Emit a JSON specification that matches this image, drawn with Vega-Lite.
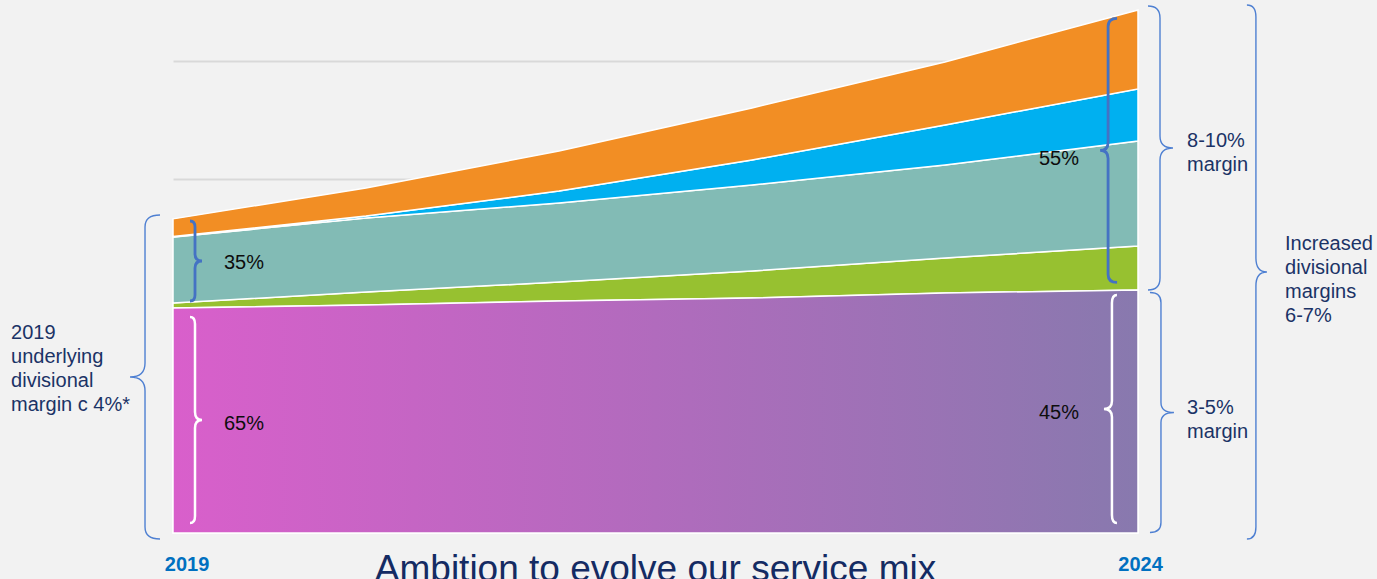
{
  "$schema": "https://vega.github.io/schema/vega-lite/v6.json",
  "width": 965,
  "height": 531,
  "autosize": {"type": "none"},
  "padding": {"left": 173, "top": 2, "right": 239, "bottom": 46},
  "background": "#F2F2F2",
  "config": {"view": {"stroke": null}, "font": "Liberation Sans", "text": {"font": "Liberation Sans"}},
  "datasets": {
    "mix": [
      {"year": 2019, "segment": "Traditional services", "rank": 1, "share": 190.7},
      {"year": 2020, "segment": "Traditional services", "rank": 1, "share": 193.2},
      {"year": 2021, "segment": "Traditional services", "rank": 1, "share": 196.6},
      {"year": 2022, "segment": "Traditional services", "rank": 1, "share": 199.2},
      {"year": 2023, "segment": "Traditional services", "rank": 1, "share": 203.4},
      {"year": 2024, "segment": "Traditional services", "rank": 1, "share": 205.9},
      {"year": 2019, "segment": "Growth service A", "rank": 2, "share": 4.2},
      {"year": 2020, "segment": "Growth service A", "rank": 2, "share": 11.0},
      {"year": 2021, "segment": "Growth service A", "rank": 2, "share": 16.1},
      {"year": 2022, "segment": "Growth service A", "rank": 2, "share": 22.8},
      {"year": 2023, "segment": "Growth service A", "rank": 2, "share": 29.7},
      {"year": 2024, "segment": "Growth service A", "rank": 2, "share": 37.3},
      {"year": 2019, "segment": "Growth service B", "rank": 3, "share": 55.9},
      {"year": 2020, "segment": "Growth service B", "rank": 3, "share": 62.7},
      {"year": 2021, "segment": "Growth service B", "rank": 3, "share": 67.0},
      {"year": 2022, "segment": "Growth service B", "rank": 3, "share": 72.9},
      {"year": 2023, "segment": "Growth service B", "rank": 3, "share": 78.8},
      {"year": 2024, "segment": "Growth service B", "rank": 3, "share": 89.0},
      {"year": 2019, "segment": "Growth service C", "rank": 4, "share": 0.4},
      {"year": 2020, "segment": "Growth service C", "rank": 4, "share": 1.7},
      {"year": 2021, "segment": "Growth service C", "rank": 4, "share": 10.1},
      {"year": 2022, "segment": "Growth service C", "rank": 4, "share": 21.2},
      {"year": 2023, "segment": "Growth service C", "rank": 4, "share": 33.9},
      {"year": 2024, "segment": "Growth service C", "rank": 4, "share": 44.1},
      {"year": 2019, "segment": "Growth service D", "rank": 5, "share": 15.0},
      {"year": 2020, "segment": "Growth service D", "rank": 5, "share": 23.8},
      {"year": 2021, "segment": "Growth service D", "rank": 5, "share": 33.9},
      {"year": 2022, "segment": "Growth service D", "rank": 5, "share": 44.1},
      {"year": 2023, "segment": "Growth service D", "rank": 5, "share": 53.4},
      {"year": 2024, "segment": "Growth service D", "rank": 5, "share": 66.9}
    ]
  },
  "layer": [
    {
      "data": {"name": "mix"},
      "mark": {"type": "area", "stroke": "#FFFFFF", "strokeWidth": 1.5, "interpolate": "linear"},
      "encoding": {
        "x": {"field": "year", "type": "quantitative", "scale": {"domain": [2019, 2024], "nice": false, "zero": false}, "axis": null},
        "y": {
          "field": "share", "type": "quantitative", "stack": "zero",
          "scale": {"domain": [0, 450], "nice": false, "zero": true},
          "axis": {"values": [100, 200, 300, 400], "labels": false, "ticks": false, "domain": false, "title": null, "grid": true, "gridColor": "#D9D9D9", "gridWidth": 2}
        },
        "color": {
          "field": "segment", "type": "nominal", "legend": null,
          "scale": {
            "domain": ["Traditional services", "Growth service A", "Growth service B", "Growth service C", "Growth service D"],
            "range": ["#B06CBC", "#97C130", "#82BBB5", "#00B0F0", "#F28E24"]
          }
        },
        "order": {"field": "rank", "type": "quantitative"}
      }
    },
    {
      "data": {"name": "mix"},
      "transform": [{"filter": "datum.rank == 1"}],
      "mark": {
        "type": "area", "stroke": "#FFFFFF", "strokeWidth": 1.5,
        "fill": {"gradient": "linear", "x1": 0, "y1": 0, "x2": 1, "y2": 0,
          "stops": [{"offset": 0, "color": "#D95FCB"}, {"offset": 0.5, "color": "#B16BBD"}, {"offset": 1, "color": "#8879AE"}]}
      },
      "encoding": {
        "x": {"field": "year", "type": "quantitative"},
        "y": {"field": "share", "type": "quantitative"}
      }
    },
    {
      "data": {"values": [{}]},
      "mark": {"type": "point", "shape": "M15,-162 Q0,-162 0,-150 L0,-14 Q0,0 -15,0 Q0,0 0,14 L0,150 Q0,162 15,162", "size": 4, "filled": false, "color": "#4F80D2", "strokeWidth": 1.4, "opacity": 1},
      "encoding": {"x": {"datum": 2018.855}, "y": {"datum": 132.2}}
    },
    {
      "data": {"values": [{}]},
      "mark": {"type": "point", "shape": "M-5,-40 Q0,-40 0,-34 L0,-7 Q0,0 7,0 Q0,0 0,7 L0,34 Q0,40 -5,40", "size": 4, "filled": false, "color": "#4472C4", "strokeWidth": 2.8, "opacity": 1},
      "encoding": {"x": {"datum": 2019.114}, "y": {"datum": 230.5}}
    },
    {
      "data": {"values": [{}]},
      "mark": {"type": "point", "shape": "M-5,-103 Q0,-103 0,-96 L0,-8 Q0,0 7,0 Q0,0 0,8 L0,96 Q0,103 -5,103", "size": 4, "filled": false, "color": "#FFFFFF", "strokeWidth": 2.5, "opacity": 1},
      "encoding": {"x": {"datum": 2019.114}, "y": {"datum": 95.8}}
    },
    {
      "data": {"values": [{}]},
      "mark": {"type": "point", "shape": "M9,-132 Q0,-132 0,-124 L0,-8 Q0,0 -8,0 Q0,0 0,8 L0,124 Q0,132 9,132", "size": 4, "filled": false, "color": "#4472C4", "strokeWidth": 2.8, "opacity": 1},
      "encoding": {"x": {"datum": 2023.845}, "y": {"datum": 324.2}}
    },
    {
      "data": {"values": [{}]},
      "mark": {"type": "point", "shape": "M5,-114 Q0,-114 0,-106 L0,-8 Q0,0 -8,0 Q0,0 0,8 L0,106 Q0,114 5,114", "size": 4, "filled": false, "color": "#FFFFFF", "strokeWidth": 2.5, "opacity": 1},
      "encoding": {"x": {"datum": 2023.865}, "y": {"datum": 105.1}}
    },
    {
      "data": {"values": [{}]},
      "mark": {"type": "point", "shape": "M-12,-142 Q0,-142 0,-130 L0,-12 Q0,0 13,0 Q0,0 0,12 L0,130 Q0,142 -12,142", "size": 4, "filled": false, "color": "#4F80D2", "strokeWidth": 1.4, "opacity": 1},
      "encoding": {"x": {"datum": 2024.114}, "y": {"datum": 326.3}}
    },
    {
      "data": {"values": [{}]},
      "mark": {"type": "point", "shape": "M-11,-120 Q0,-120 0,-110 L0,-10 Q0,0 13,0 Q0,0 0,10 L0,110 Q0,120 -11,120", "size": 4, "filled": false, "color": "#4F80D2", "strokeWidth": 1.4, "opacity": 1},
      "encoding": {"x": {"datum": 2024.119}, "y": {"datum": 102.1}}
    },
    {
      "data": {"values": [{}]},
      "mark": {"type": "point", "shape": "M-9,-267 Q0,-267 0,-255 L0,-14 Q0,0 11,0 Q0,0 0,14 L0,255 Q0,267 -9,267", "size": 4, "filled": false, "color": "#4F80D2", "strokeWidth": 1.4, "opacity": 1},
      "encoding": {"x": {"datum": 2024.611}, "y": {"datum": 221.2}}
    },
    {
      "data": {"values": [{}]},
      "mark": {"type": "text", "text": "35%", "align": "left", "baseline": "alphabetic", "fontSize": 20, "color": "#0D0D0D"},
      "encoding": {"x": {"datum": 2019.264}, "y": {"datum": 223.7}}
    },
    {
      "data": {"values": [{}]},
      "mark": {"type": "text", "text": "65%", "align": "left", "baseline": "alphabetic", "fontSize": 20, "color": "#0D0D0D"},
      "encoding": {"x": {"datum": 2019.264}, "y": {"datum": 86.9}}
    },
    {
      "data": {"values": [{}]},
      "mark": {"type": "text", "text": "55%", "align": "left", "baseline": "alphabetic", "fontSize": 20, "color": "#0D0D0D"},
      "encoding": {"x": {"datum": 2023.487}, "y": {"datum": 311.9}}
    },
    {
      "data": {"values": [{}]},
      "mark": {"type": "text", "text": "45%", "align": "left", "baseline": "alphabetic", "fontSize": 20, "color": "#0D0D0D"},
      "encoding": {"x": {"datum": 2023.487}, "y": {"datum": 96.6}}
    },
    {
      "data": {"values": [{}]},
      "mark": {"type": "text", "text": ["2019", "underlying", "divisional", "margin c 4%*"], "align": "left", "baseline": "alphabetic", "lineHeight": 24, "fontSize": 20, "color": "#1B3366"},
      "encoding": {"x": {"datum": 2018.161}, "y": {"datum": 164.4}}
    },
    {
      "data": {"values": [{}]},
      "mark": {"type": "text", "text": ["8-10%", "margin"], "align": "left", "baseline": "alphabetic", "lineHeight": 24, "fontSize": 20, "color": "#1B3366"},
      "encoding": {"x": {"datum": 2024.254}, "y": {"datum": 327.1}}
    },
    {
      "data": {"values": [{}]},
      "mark": {"type": "text", "text": ["3-5%", "margin"], "align": "left", "baseline": "alphabetic", "lineHeight": 24, "fontSize": 20, "color": "#1B3366"},
      "encoding": {"x": {"datum": 2024.254}, "y": {"datum": 100.8}}
    },
    {
      "data": {"values": [{}]},
      "mark": {"type": "text", "text": ["Increased", "divisional", "margins", "6-7%"], "align": "left", "baseline": "alphabetic", "lineHeight": 24, "fontSize": 20, "color": "#1B3366"},
      "encoding": {"x": {"datum": 2024.762}, "y": {"datum": 239.8}}
    },
    {
      "data": {"values": [{}]},
      "mark": {"type": "text", "text": "2019", "align": "center", "baseline": "middle", "fontSize": 20, "fontWeight": "bold", "color": "#0070C0"},
      "encoding": {"x": {"datum": 2019.073}, "y": {"datum": -27.5}}
    },
    {
      "data": {"values": [{}]},
      "mark": {"type": "text", "text": "2024", "align": "center", "baseline": "middle", "fontSize": 20, "fontWeight": "bold", "color": "#0070C0"},
      "encoding": {"x": {"datum": 2024.013}, "y": {"datum": -27.5}}
    },
    {
      "data": {"values": [{}]},
      "mark": {"type": "text", "text": "Ambition to evolve our service mix", "align": "center", "baseline": "alphabetic", "fontSize": 37, "color": "#142B63"},
      "encoding": {"x": {"datum": 2021.5}, "y": {"datum": -40.7}}
    }
  ]
}
